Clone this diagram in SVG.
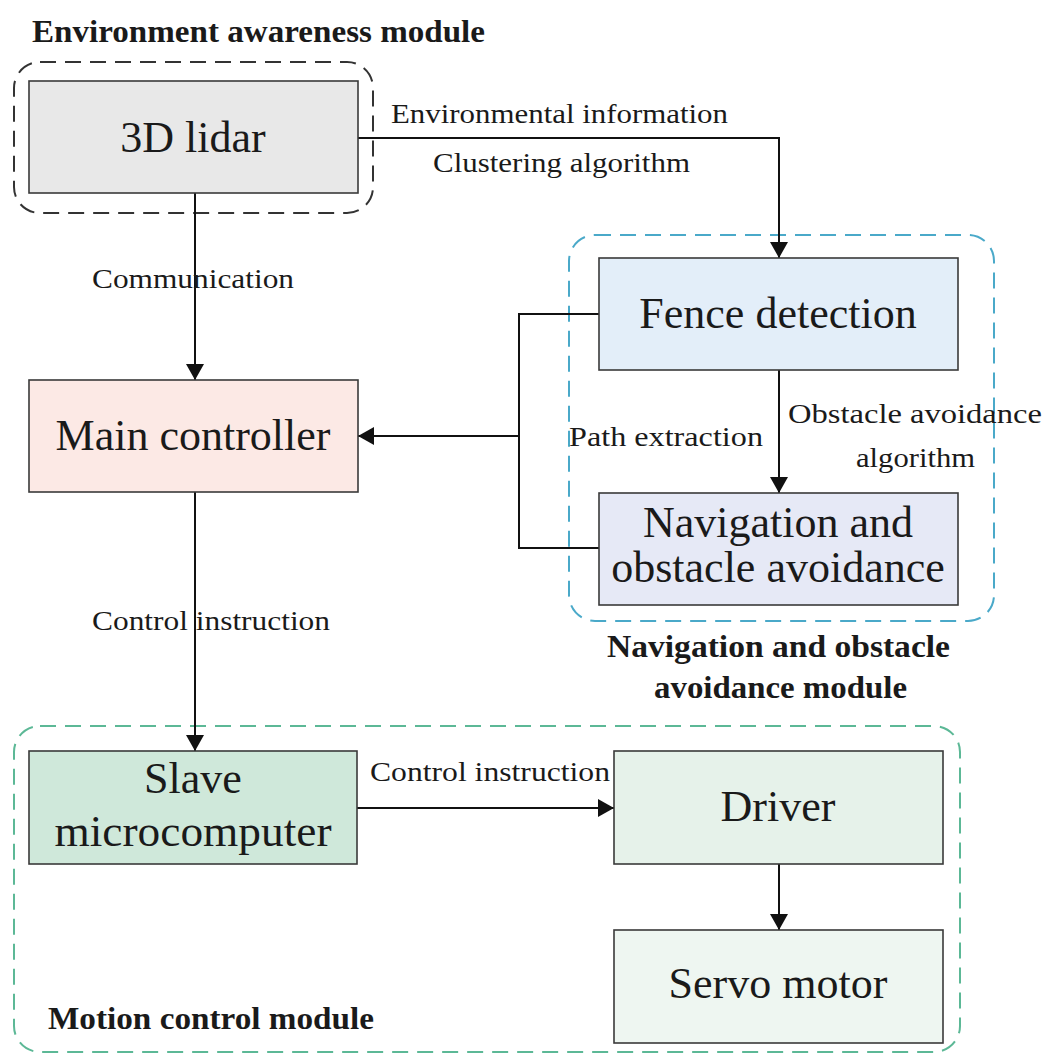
<svg xmlns="http://www.w3.org/2000/svg" width="1047" height="1055" viewBox="0 0 1047 1055">
<defs>
<style>
.box{stroke:#3a3a3a;stroke-width:1.6}
.grp{fill:none;stroke-width:2;stroke-dasharray:16 9}
.node{font-family:"Liberation Serif","Times New Roman",serif;font-size:44px;fill:#1a1a1a;text-anchor:middle}
.lbl{font-family:"Liberation Serif","Times New Roman",serif;font-size:28px;fill:#1a1a1a}
.ttl{font-family:"Liberation Serif","Times New Roman",serif;font-size:32px;font-weight:bold;fill:#1a1a1a}
.edge{fill:none;stroke:#111;stroke-width:2}
</style>
<marker id="arr" viewBox="0 0 16 18" refX="16" refY="9" markerWidth="16" markerHeight="18" markerUnits="userSpaceOnUse" orient="auto">
<path d="M0,0 L16,9 L0,18 Z" fill="#111"/>
</marker>
</defs>
<rect width="1047" height="1055" fill="#ffffff"/>

<g id="groups">
<rect id="grp-env" class="grp" x="14" y="62" width="359" height="151" rx="26" stroke="#333333"/>
<rect id="grp-nav" class="grp" x="569" y="235" width="425" height="386" rx="26" stroke="#4aa9c9"/>
<rect id="grp-motion" class="grp" x="14" y="726" width="946" height="326" rx="26" stroke="#5cb896"/>
<text class="ttl" x="32" y="42" textLength="453" lengthAdjust="spacingAndGlyphs">Environment awareness module</text>
<text class="ttl" x="607" y="657" textLength="343" lengthAdjust="spacingAndGlyphs">Navigation and obstacle</text>
<text class="ttl" x="654" y="698" textLength="253" lengthAdjust="spacingAndGlyphs">avoidance module</text>
<text class="ttl" x="48" y="1029" textLength="326" lengthAdjust="spacingAndGlyphs">Motion control module</text>
</g>

<g id="connectors">
<path class="edge" d="M358,138 H779 V258" marker-end="url(#arr)"/>
<path class="edge" d="M195,193 V380" marker-end="url(#arr)"/>
<path class="edge" d="M779,370 V493" marker-end="url(#arr)"/>
<path class="edge" d="M599,314 H519 V548 H599"/>
<path class="edge" d="M519,436 H358" marker-end="url(#arr)"/>
<path class="edge" d="M195,492 V751" marker-end="url(#arr)"/>
<path class="edge" d="M357,808 H614" marker-end="url(#arr)"/>
<path class="edge" d="M779,864 V930" marker-end="url(#arr)"/>
<text class="lbl" x="391" y="123" textLength="337" lengthAdjust="spacingAndGlyphs">Environmental information</text>
<text class="lbl" x="433" y="172" textLength="257" lengthAdjust="spacingAndGlyphs">Clustering algorithm</text>
<text class="lbl" x="92" y="288" textLength="202" lengthAdjust="spacingAndGlyphs">Communication</text>
<text class="lbl" x="569" y="446" textLength="194" lengthAdjust="spacingAndGlyphs">Path extraction</text>
<text class="lbl" x="788" y="423" textLength="254" lengthAdjust="spacingAndGlyphs">Obstacle avoidance</text>
<text class="lbl" x="856" y="467" textLength="119" lengthAdjust="spacingAndGlyphs">algorithm</text>
<text class="lbl" x="92" y="630" textLength="238" lengthAdjust="spacingAndGlyphs">Control instruction</text>
<text class="lbl" x="370" y="781" textLength="240" lengthAdjust="spacingAndGlyphs">Control instruction</text>
</g>

<g id="node-lidar">
<rect class="box" x="29" y="81" width="329" height="112" fill="#e8e8e8"/>
<text class="node" x="193" y="152">3D lidar</text>
</g>
<g id="node-fence">
<rect class="box" x="599" y="258" width="359" height="112" fill="#e3eef9"/>
<text class="node" x="778" y="328">Fence detection</text>
</g>
<g id="node-main">
<rect class="box" x="29" y="380" width="329" height="112" fill="#fce9e5"/>
<text class="node" x="193" y="450">Main controller</text>
</g>
<g id="node-nav">
<rect class="box" x="599" y="493" width="359" height="112" fill="#e6e9f6"/>
<text class="node" x="778" y="537">Navigation and</text>
<text class="node" x="778" y="582">obstacle avoidance</text>
</g>
<g id="node-slave">
<rect class="box" x="29" y="751" width="328" height="113" fill="#cfe8da"/>
<text class="node" x="193" y="793">Slave</text>
<text class="node" x="193" y="846" textLength="277" lengthAdjust="spacingAndGlyphs">microcomputer</text>
</g>
<g id="node-driver">
<rect class="box" x="614" y="751" width="329" height="113" fill="#e6f2ea"/>
<text class="node" x="778" y="821">Driver</text>
</g>
<g id="node-servo">
<rect class="box" x="614" y="930" width="329" height="113" fill="#eef6f1"/>
<text class="node" x="778" y="998">Servo motor</text>
</g>
</svg>
